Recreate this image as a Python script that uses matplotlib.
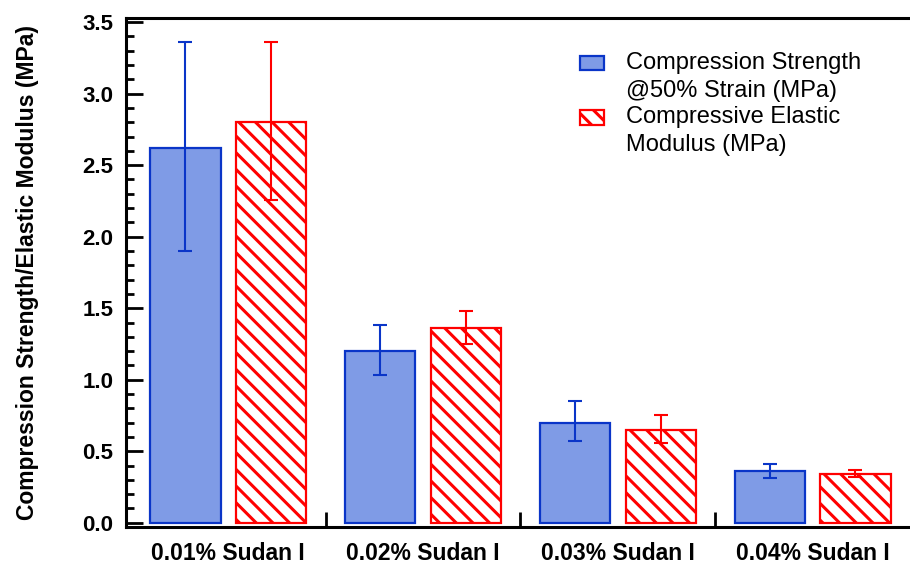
import numpy as np
import matplotlib.pyplot as plt
from matplotlib.patches import Rectangle
from matplotlib.legend_handler import HandlerPatch

plt.rcParams['font.family'] = ['Liberation Sans', 'DejaVu Sans']
plt.rcParams['hatch.linewidth'] = 2.2

groups = ['0.01% Sudan I', '0.02% Sudan I', '0.03% Sudan I', '0.04% Sudan I']
strength = [2.62, 1.20, 0.70, 0.36]
strength_lo = [1.90, 1.03, 0.57, 0.31]
strength_hi = [3.36, 1.38, 0.85, 0.41]
modulus = [2.80, 1.36, 0.65, 0.34]
modulus_lo = [2.26, 1.25, 0.56, 0.32]
modulus_hi = [3.36, 1.48, 0.75, 0.37]
labels = ['Compression Strength\n@50% Strain (MPa)',
          'Compressive Elastic\nModulus (MPa)']

blue = '#0a35c8'
red = '#ff0000'


def first_line_patch(legend, orig_handle, xdescent, ydescent, width, height, fontsize):
    # legend swatch sits next to the first line of a two-line label
    return Rectangle((-xdescent, -ydescent + 0.58 * fontsize), width, height)


fig = plt.figure(figsize=(9.1, 5.67), dpi=100)
ax = fig.add_axes([0.1385, 0.0705, 0.8615, 0.898])

x = np.arange(len(groups))
w = 0.36
off = 0.22

s = np.array(strength)
m = np.array(modulus)
s_err = [s - np.array(strength_lo), np.array(strength_hi) - s]
m_err = [m - np.array(modulus_lo), np.array(modulus_hi) - m]

b1 = ax.bar(x - off, strength, w, color='#7f9be6', edgecolor=blue, linewidth=1.6,
            zorder=2)
b2 = ax.bar(x + off, modulus, w, color='white', edgecolor=red, linewidth=1.6,
            hatch='\\\\', zorder=2)
ax.errorbar(x - off, strength, yerr=s_err, fmt='none', ecolor=blue,
            elinewidth=1.5, capsize=5, capthick=1.5, zorder=3)
ax.errorbar(x + off, modulus, yerr=m_err, fmt='none', ecolor=red,
            elinewidth=1.5, capsize=5, capthick=1.5, zorder=3)

ax.set_xlim(-0.525, 3.5)
ax.set_ylim(-0.03, 3.53)

ax.set_yticks(np.arange(0, 3.51, 0.5))
ax.set_yticks(np.arange(0, 3.51, 0.1), minor=True)
ax.set_yticklabels(['%.1f' % v for v in np.arange(0, 3.51, 0.5)])
ax.set_xticks(x)
ax.set_xticklabels(groups)
ax.set_xticks([0.5, 1.5, 2.5], minor=True)

ax.tick_params(axis='y', which='major', direction='in', length=12, width=2,
               labelsize=16, pad=9)
ax.tick_params(axis='y', which='minor', direction='in', length=6, width=2)
ax.tick_params(axis='x', which='major', length=0, labelsize=16.5, pad=11)
ax.tick_params(axis='x', which='minor', direction='in', length=11, width=2)
for lab in ax.get_xticklabels() + ax.get_yticklabels():
    lab.set_fontweight('bold')

for side in ['left', 'bottom', 'top']:
    ax.spines[side].set_linewidth(2.2)
ax.spines['right'].set_visible(False)

ax.set_ylabel('Compression Strength/Elastic Modulus (MPa)', fontsize=16.5,
              fontweight='bold', labelpad=31)

leg = ax.legend([b1.patches[0], b2.patches[0]], labels,
                loc='upper left', bbox_to_anchor=(0.579, 0.933), frameon=False,
                fontsize=17, handlelength=1.0, handleheight=0.55,
                labelspacing=0.19, handletextpad=0.95, borderpad=0,
                borderaxespad=0,
                handler_map={Rectangle: HandlerPatch(patch_func=first_line_patch)})
for t in leg.get_texts():
    t.set_linespacing(1.34)

fig.savefig('out.png', dpi=100)
